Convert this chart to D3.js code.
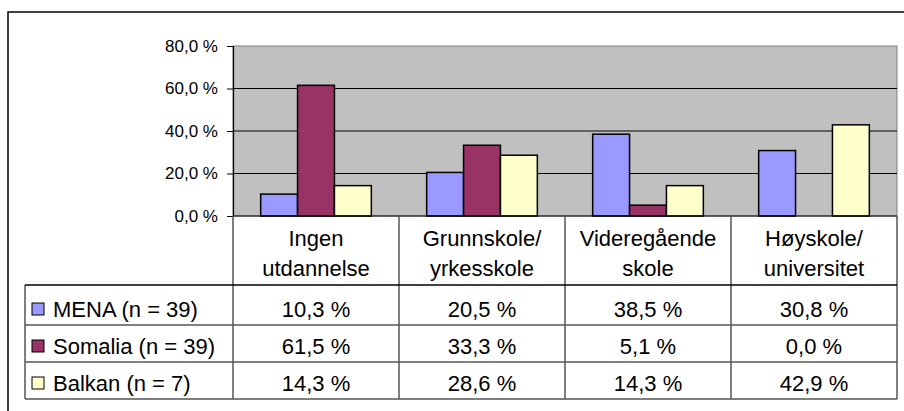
<!DOCTYPE html>
<html>
<head>
<meta charset="utf-8">
<script src="https://cdn.jsdelivr.net/npm/d3@7"></script>
<style>
  body { margin: 0; background: #fff; }
  text { font-family: "Liberation Sans", Arial, sans-serif; fill: #000; }
</style>
</head>
<body>
<div id="chart"></div>
<script>
var categories = ["Ingen utdannelse", "Grunnskole/ yrkesskole", "Videregående skole", "Høyskole/ universitet"];
var categoryLines = [["Ingen", "utdannelse"], ["Grunnskole/", "yrkesskole"], ["Videregående", "skole"], ["Høyskole/", "universitet"]];
var seriesNames = ["MENA (n = 39)", "Somalia (n = 39)", "Balkan (n = 7)"];
var seriesColors = ["#9999ff", "#993366", "#ffffcc"];
var mena = [10.3, 20.5, 38.5, 30.8];
var somalia = [61.5, 33.3, 5.1, 0.0];
var balkan = [14.3, 28.6, 14.3, 42.9];
var yTicks = [0, 20, 40, 60, 80];

var seriesValues = [mena, somalia, balkan];

var width = 904,
    height = 411;

var svg = d3.select("#chart").append("svg")
    .attr("width", width)
    .attr("height", height);

var no = d3.formatLocale({decimal: ",", thousands: " ", grouping: [3], currency: ["", " kr"]});
var pct = no.format(".1f");

var plotLeft = 233, plotRight = 897, plotTop = 46, plotBottom = 216;

var x0 = d3.scaleBand()
    .domain(categories)
    .range([plotLeft, plotRight])
    .padding(0);

var x1 = d3.scaleBand()
    .domain(seriesNames)
    .range([0, x0.bandwidth()])
    .paddingInner(0)
    .paddingOuter(0.75);

var y = d3.scaleLinear()
    .domain([0, 80])
    .range([plotBottom, plotTop]);

// outer frame (cut at right and bottom)
svg.append("path")
    .attr("d", "M8," + height + "V12H" + width)
    .attr("fill", "none")
    .attr("stroke", "#000")
    .attr("stroke-width", 1.5);

// plot area
svg.append("rect")
    .attr("x", plotLeft)
    .attr("y", plotTop)
    .attr("width", plotRight - plotLeft)
    .attr("height", plotBottom - plotTop)
    .attr("fill", "#c0c0c0")
    .attr("stroke", "#808080")
    .attr("stroke-width", 1);

// gridlines
svg.append("g")
    .selectAll("line")
    .data(yTicks.filter(function (d) { return d > 0 && d < 80; }))
    .enter().append("line")
    .attr("x1", plotLeft)
    .attr("x2", plotRight)
    .attr("y1", function (d) { return y(d); })
    .attr("y2", function (d) { return y(d); })
    .attr("stroke", "#000")
    .attr("stroke-width", 1);

// bars
var groups = svg.append("g")
    .selectAll("g")
    .data(categories)
    .enter().append("g")
    .attr("transform", function (d) { return "translate(" + x0(d) + ",0)"; });

groups.selectAll("rect")
    .data(function (d, i) {
        return seriesNames.map(function (s, j) {
            return {series: s, color: seriesColors[j], value: seriesValues[j][i]};
        }).filter(function (b) { return b.value > 0; });
    })
    .enter().append("rect")
    .attr("x", function (d) { return x1(d.series); })
    .attr("width", x1.bandwidth())
    .attr("y", function (d) { return y(d.value); })
    .attr("height", function (d) { return y(0) - y(d.value); })
    .attr("fill", function (d) { return d.color; })
    .attr("stroke", "#000")
    .attr("stroke-width", 1.5);

// y axis
var yAxis = svg.append("g")
    .attr("transform", "translate(" + plotLeft + ",0)")
    .call(d3.axisLeft(y)
        .tickValues(yTicks)
        .tickSize(6)
        .tickPadding(9)
        .tickFormat(function (d) { return pct(d) + " %"; }));
yAxis.select(".domain").attr("stroke", "#000").attr("stroke-width", 1.2);
yAxis.selectAll(".tick line").attr("stroke", "#000");
yAxis.selectAll("text")
    .attr("font-size", "17px")
    .attr("font-family", "'Liberation Sans', Arial, sans-serif")
    .attr("fill", "#000");

// x axis line
svg.append("line")
    .attr("x1", plotLeft).attr("x2", plotRight)
    .attr("y1", plotBottom).attr("y2", plotBottom)
    .attr("stroke", "#000").attr("stroke-width", 1.2);

// data table
var rowTops = [285, 325, 362, 399];
var tableLeft = 25;
var table = svg.append("g");
var gridColor = "#555";

// category boundaries
var bounds = categories.map(function (c) { return x0(c); }).concat([plotRight]);
table.selectAll("line.v")
    .data(bounds)
    .enter().append("line")
    .attr("class", "v")
    .attr("x1", function (d) { return d; })
    .attr("x2", function (d) { return d; })
    .attr("y1", plotBottom)
    .attr("y2", rowTops[3])
    .attr("stroke", gridColor)
    .attr("stroke-width", 1.5);

table.append("line")
    .attr("x1", tableLeft).attr("x2", tableLeft)
    .attr("y1", rowTops[0]).attr("y2", rowTops[3])
    .attr("stroke", gridColor).attr("stroke-width", 1.5);

table.selectAll("line.h")
    .data(rowTops)
    .enter().append("line")
    .attr("class", "h")
    .attr("x1", tableLeft)
    .attr("x2", plotRight)
    .attr("y1", function (d) { return d; })
    .attr("y2", function (d) { return d; })
    .attr("stroke", function (d, i) { return i === 0 ? "#000" : gridColor; })
    .attr("stroke-width", 1.5);

// header labels
var headers = table.selectAll("text.head")
    .data(categoryLines)
    .enter().append("text")
    .attr("class", "head")
    .attr("text-anchor", "middle")
    .attr("font-size", "22px");
headers.each(function (lines, i) {
    var t = d3.select(this);
    var cx = x0(categories[i]) + x0.bandwidth() / 2;
    lines.forEach(function (ln, k) {
        t.append("tspan")
            .attr("x", cx)
            .attr("y", 246 + k * 30)
            .text(ln);
    });
});

// rows
seriesNames.forEach(function (s, j) {
    var top = rowTops[j], bottom = rowTops[j + 1];
    var base = bottom - 8;
    table.append("rect")
        .attr("x", 32)
        .attr("y", base - 14)
        .attr("width", 12)
        .attr("height", 12)
        .attr("fill", seriesColors[j])
        .attr("stroke", "#000")
        .attr("stroke-width", 1);
    table.append("text")
        .attr("x", 53)
        .attr("y", base)
        .attr("font-size", "22px")
        .text(s);
    table.selectAll(null)
        .data(seriesValues[j])
        .enter().append("text")
        .attr("x", function (d, i) { return x0(categories[i]) + x0.bandwidth() / 2; })
        .attr("y", base)
        .attr("text-anchor", "middle")
        .attr("font-size", "22px")
        .text(function (d) { return pct(d) + " %"; });
});
</script>
</body>
</html>
